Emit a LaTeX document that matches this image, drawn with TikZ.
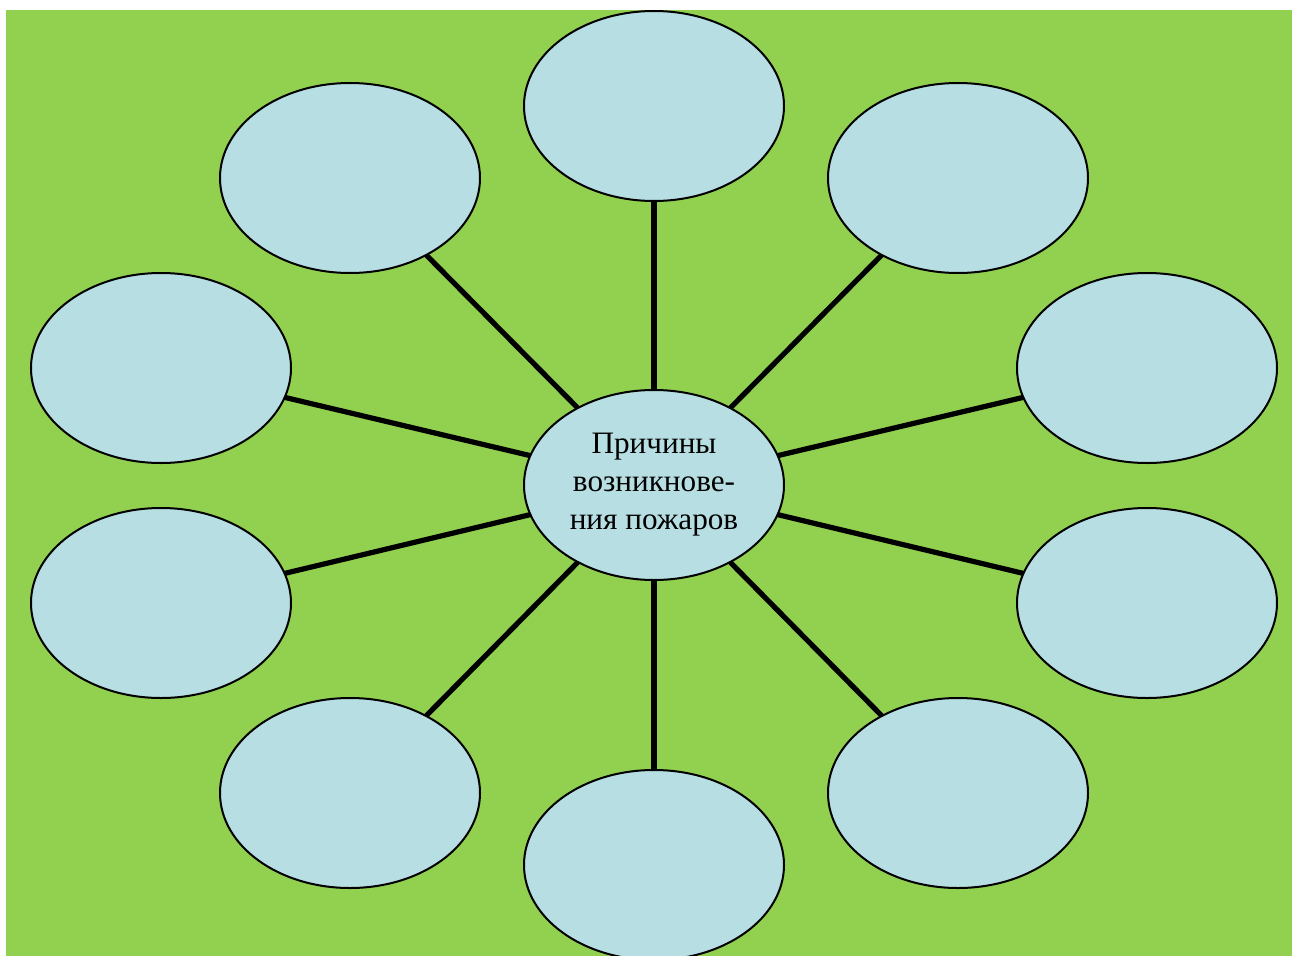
\documentclass[tikz,border=0pt]{standalone}
\usepackage{fontspec}
\setmainfont{Liberation Serif}
\usetikzlibrary{shapes.geometric}
\definecolor{bggreen}{HTML}{92D050}
\definecolor{ellfill}{HTML}{B7DFE3}
\tikzset{
  bubble/.style={ellipse, draw=black, line width=1.5pt, fill=ellfill,
    minimum width=195pt, minimum height=142.5pt, inner sep=0pt},
  spoke/.style={line width=3.9pt, black}
}
\begin{document}
\begin{tikzpicture}[x=0.75pt, y=-0.75pt]
  \useasboundingbox (0,0) rectangle (1292,956);
  \fill[white] (0,0) rectangle (1292,956);
  \fill[bggreen] (6,10) rectangle (1292,956);
  \begin{scope}
  \clip (6,10) rectangle (1292,956);
  % centers
  \coordinate (c0) at (654,485);
  \coordinate (c1) at (654,106);
  \coordinate (c2) at (958,178);
  \coordinate (c3) at (1147,368);
  \coordinate (c4) at (1147,603);
  \coordinate (c5) at (958,793);
  \coordinate (c6) at (654,865);
  \coordinate (c7) at (350,793);
  \coordinate (c8) at (161,603);
  \coordinate (c9) at (161,368);
  \coordinate (c10) at (350,178);
  \foreach \i in {1,...,10} { \draw[spoke] (c0) -- (c\i); }
  \foreach \i in {1,...,10} { \node[bubble] (e\i) at (c\i) {}; }
  \node[bubble, align=center, font=\fontsize{23.4pt}{28.5pt}\selectfont] (center) at (c0)
    {Причины\\возникнове-\\ния пожаров};
  \end{scope}
\end{tikzpicture}
\end{document}
